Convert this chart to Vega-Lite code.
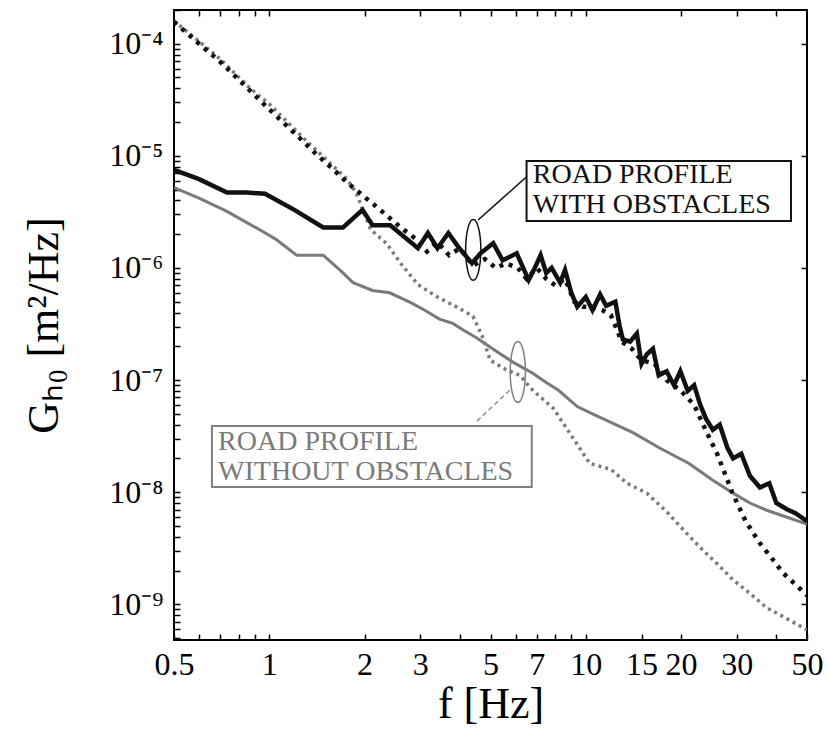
{
  "$schema": "https://vega.github.io/schema/vega-lite/v6.json",
  "width": 633,
  "height": 630,
  "autosize": {"type": "none"},
  "padding": {"left": 174, "top": 10, "right": 21, "bottom": 90},
  "background": "white",
  "config": {
    "view": {"stroke": "black", "strokeWidth": 2},
    "font": "Liberation Serif"
  },
  "datasets": {
    "curves": [
      {"s": "bs", "f": 0.5, "G": 7.5e-6}, {"s": "bs", "f": 0.6, "G": 6.2e-6}, {"s": "bs", "f": 0.735, "G": 4.7e-6},
      {"s": "bs", "f": 0.85, "G": 4.7e-6}, {"s": "bs", "f": 0.97, "G": 4.6e-6}, {"s": "bs", "f": 1.2, "G": 3.3e-6},
      {"s": "bs", "f": 1.48, "G": 2.3e-6}, {"s": "bs", "f": 1.71, "G": 2.3e-6}, {"s": "bs", "f": 1.97, "G": 3.3e-6},
      {"s": "bs", "f": 2.12, "G": 2.4e-6}, {"s": "bs", "f": 2.41, "G": 2.4e-6}, {"s": "bs", "f": 2.95, "G": 1.5e-6},
      {"s": "bs", "f": 3.17, "G": 2.05e-6}, {"s": "bs", "f": 3.4, "G": 1.5e-6}, {"s": "bs", "f": 3.68, "G": 2.05e-6},
      {"s": "bs", "f": 3.95, "G": 1.55e-6}, {"s": "bs", "f": 4.37, "G": 1.1e-6}, {"s": "bs", "f": 4.65, "G": 1.35e-6},
      {"s": "bs", "f": 5.1, "G": 1.66e-6}, {"s": "bs", "f": 5.46, "G": 1.17e-6}, {"s": "bs", "f": 6.05, "G": 1.35e-6},
      {"s": "bs", "f": 6.6, "G": 7.8e-7}, {"s": "bs", "f": 6.9, "G": 1.0e-6}, {"s": "bs", "f": 7.2, "G": 1.3e-6},
      {"s": "bs", "f": 7.5, "G": 9e-7}, {"s": "bs", "f": 7.8, "G": 1.0e-6}, {"s": "bs", "f": 8.3, "G": 7.4e-7},
      {"s": "bs", "f": 8.6, "G": 9.6e-7}, {"s": "bs", "f": 9.0, "G": 6e-7}, {"s": "bs", "f": 9.4, "G": 4.5e-7},
      {"s": "bs", "f": 10.0, "G": 5.5e-7}, {"s": "bs", "f": 10.5, "G": 4.2e-7}, {"s": "bs", "f": 11.1, "G": 5.8e-7},
      {"s": "bs", "f": 11.6, "G": 4.6e-7}, {"s": "bs", "f": 12.4, "G": 5.0e-7}, {"s": "bs", "f": 12.8, "G": 3.0e-7},
      {"s": "bs", "f": 13.1, "G": 2.3e-7}, {"s": "bs", "f": 13.8, "G": 2.2e-7}, {"s": "bs", "f": 14.5, "G": 2.6e-7},
      {"s": "bs", "f": 15.0, "G": 1.4e-7}, {"s": "bs", "f": 15.6, "G": 1.7e-7}, {"s": "bs", "f": 16.3, "G": 1.9e-7},
      {"s": "bs", "f": 17.0, "G": 1.1e-7}, {"s": "bs", "f": 18.0, "G": 1.2e-7}, {"s": "bs", "f": 19.0, "G": 9e-8},
      {"s": "bs", "f": 19.9, "G": 1.2e-7}, {"s": "bs", "f": 21, "G": 8e-8}, {"s": "bs", "f": 22, "G": 9e-8},
      {"s": "bs", "f": 23, "G": 6e-8}, {"s": "bs", "f": 24, "G": 4.5e-8}, {"s": "bs", "f": 25.2, "G": 3.6e-8},
      {"s": "bs", "f": 26.5, "G": 4e-8}, {"s": "bs", "f": 28, "G": 2.5e-8}, {"s": "bs", "f": 29.2, "G": 2.0e-8},
      {"s": "bs", "f": 31, "G": 2.2e-8}, {"s": "bs", "f": 33, "G": 1.4e-8}, {"s": "bs", "f": 35.5, "G": 1.1e-8},
      {"s": "bs", "f": 38, "G": 1.2e-8}, {"s": "bs", "f": 40, "G": 8e-9}, {"s": "bs", "f": 43.3, "G": 7e-9},
      {"s": "bs", "f": 46, "G": 6.5e-9}, {"s": "bs", "f": 50, "G": 5.5e-9},

      {"s": "bd", "f": 0.5, "G": 1.57e-4}, {"s": "bd", "f": 0.6, "G": 1.0e-4}, {"s": "bd", "f": 0.7, "G": 6.9e-5},
      {"s": "bd", "f": 0.8, "G": 4.8e-5}, {"s": "bd", "f": 1.0, "G": 2.6e-5}, {"s": "bd", "f": 1.2, "G": 1.6e-5},
      {"s": "bd", "f": 1.4, "G": 1.05e-5}, {"s": "bd", "f": 1.6, "G": 7.5e-6}, {"s": "bd", "f": 1.76, "G": 5.8e-6},
      {"s": "bd", "f": 2.0, "G": 4.3e-6}, {"s": "bd", "f": 2.3, "G": 3.1e-6}, {"s": "bd", "f": 2.6, "G": 2.3e-6},
      {"s": "bd", "f": 2.93, "G": 1.78e-6}, {"s": "bd", "f": 3.15, "G": 1.4e-6}, {"s": "bd", "f": 3.4, "G": 1.7e-6},
      {"s": "bd", "f": 3.7, "G": 1.3e-6}, {"s": "bd", "f": 4.0, "G": 1.5e-6}, {"s": "bd", "f": 4.4, "G": 1.05e-6},
      {"s": "bd", "f": 4.8, "G": 1.2e-6}, {"s": "bd", "f": 5.2, "G": 1.0e-6}, {"s": "bd", "f": 5.6, "G": 1.1e-6},
      {"s": "bd", "f": 6.1, "G": 1.0e-6}, {"s": "bd", "f": 6.5, "G": 8e-7}, {"s": "bd", "f": 7.0, "G": 1.0e-6},
      {"s": "bd", "f": 7.5, "G": 8e-7}, {"s": "bd", "f": 8.0, "G": 7e-7}, {"s": "bd", "f": 8.6, "G": 8e-7},
      {"s": "bd", "f": 9.2, "G": 5e-7}, {"s": "bd", "f": 9.8, "G": 4.5e-7}, {"s": "bd", "f": 10.5, "G": 4.5e-7},
      {"s": "bd", "f": 11.3, "G": 4.2e-7}, {"s": "bd", "f": 12, "G": 3.8e-7}, {"s": "bd", "f": 13, "G": 2.2e-7},
      {"s": "bd", "f": 14, "G": 1.9e-7}, {"s": "bd", "f": 15, "G": 1.5e-7}, {"s": "bd", "f": 16.5, "G": 1.4e-7},
      {"s": "bd", "f": 18, "G": 1.0e-7}, {"s": "bd", "f": 20, "G": 8e-8}, {"s": "bd", "f": 22, "G": 6e-8},
      {"s": "bd", "f": 24, "G": 3.5e-8}, {"s": "bd", "f": 26, "G": 2.2e-8}, {"s": "bd", "f": 29, "G": 1.0e-8},
      {"s": "bd", "f": 32, "G": 5.5e-9}, {"s": "bd", "f": 35.5, "G": 3.5e-9}, {"s": "bd", "f": 39, "G": 2.5e-9},
      {"s": "bd", "f": 42, "G": 1.9e-9}, {"s": "bd", "f": 46, "G": 1.5e-9}, {"s": "bd", "f": 50, "G": 1.2e-9},

      {"s": "gs", "f": 0.5, "G": 5.2e-6}, {"s": "gs", "f": 0.6, "G": 4.2e-6}, {"s": "gs", "f": 0.735, "G": 3.2e-6},
      {"s": "gs", "f": 0.93, "G": 2.2e-6}, {"s": "gs", "f": 1.05, "G": 1.8e-6}, {"s": "gs", "f": 1.22, "G": 1.3e-6},
      {"s": "gs", "f": 1.48, "G": 1.3e-6}, {"s": "gs", "f": 1.67, "G": 9.6e-7}, {"s": "gs", "f": 1.84, "G": 7.4e-7},
      {"s": "gs", "f": 2.12, "G": 6.3e-7}, {"s": "gs", "f": 2.4, "G": 6.0e-7}, {"s": "gs", "f": 2.8, "G": 4.9e-7},
      {"s": "gs", "f": 3.1, "G": 4.2e-7}, {"s": "gs", "f": 3.45, "G": 3.5e-7}, {"s": "gs", "f": 3.8, "G": 3.2e-7},
      {"s": "gs", "f": 4.1, "G": 2.8e-7}, {"s": "gs", "f": 4.5, "G": 2.4e-7}, {"s": "gs", "f": 5.3, "G": 1.75e-7},
      {"s": "gs", "f": 6.0, "G": 1.4e-7}, {"s": "gs", "f": 6.8, "G": 1.15e-7}, {"s": "gs", "f": 7.5, "G": 9.5e-8},
      {"s": "gs", "f": 8.2, "G": 8.1e-8}, {"s": "gs", "f": 9.4, "G": 5.8e-8}, {"s": "gs", "f": 10.5, "G": 5.0e-8},
      {"s": "gs", "f": 12, "G": 4.2e-8}, {"s": "gs", "f": 14.1, "G": 3.4e-8}, {"s": "gs", "f": 17, "G": 2.5e-8},
      {"s": "gs", "f": 21.2, "G": 1.8e-8}, {"s": "gs", "f": 25, "G": 1.3e-8}, {"s": "gs", "f": 29.2, "G": 9.8e-9},
      {"s": "gs", "f": 33, "G": 8e-9}, {"s": "gs", "f": 37.3, "G": 6.9e-9}, {"s": "gs", "f": 43, "G": 6e-9},
      {"s": "gs", "f": 50, "G": 5.2e-9},

      {"s": "gd", "f": 0.5, "G": 1.6e-4}, {"s": "gd", "f": 0.6, "G": 1.05e-4}, {"s": "gd", "f": 0.7, "G": 7.3e-5},
      {"s": "gd", "f": 0.87, "G": 4.0e-5}, {"s": "gd", "f": 1.0, "G": 2.9e-5}, {"s": "gd", "f": 1.28, "G": 1.45e-5},
      {"s": "gd", "f": 1.5, "G": 9.5e-6}, {"s": "gd", "f": 1.76, "G": 6.2e-6}, {"s": "gd", "f": 1.88, "G": 4.7e-6},
      {"s": "gd", "f": 2.09, "G": 2.2e-6}, {"s": "gd", "f": 2.35, "G": 1.65e-6}, {"s": "gd", "f": 2.6, "G": 1.1e-6},
      {"s": "gd", "f": 2.95, "G": 7.1e-7}, {"s": "gd", "f": 3.4, "G": 5.5e-7}, {"s": "gd", "f": 3.9, "G": 4.5e-7},
      {"s": "gd", "f": 4.4, "G": 3.7e-7}, {"s": "gd", "f": 4.7, "G": 2.5e-7}, {"s": "gd", "f": 4.99, "G": 1.5e-7},
      {"s": "gd", "f": 5.6, "G": 1.24e-7}, {"s": "gd", "f": 6.2, "G": 1.1e-7}, {"s": "gd", "f": 6.8, "G": 8.1e-8},
      {"s": "gd", "f": 7.9, "G": 5.6e-8}, {"s": "gd", "f": 9, "G": 3.2e-8}, {"s": "gd", "f": 10.3, "G": 1.8e-8},
      {"s": "gd", "f": 12, "G": 1.6e-8}, {"s": "gd", "f": 13.5, "G": 1.2e-8}, {"s": "gd", "f": 15.6, "G": 9.8e-9},
      {"s": "gd", "f": 18.1, "G": 6.6e-9}, {"s": "gd", "f": 20.5, "G": 4.5e-9}, {"s": "gd", "f": 23, "G": 3.2e-9},
      {"s": "gd", "f": 26, "G": 2.3e-9}, {"s": "gd", "f": 29.2, "G": 1.65e-9}, {"s": "gd", "f": 33, "G": 1.25e-9},
      {"s": "gd", "f": 37.3, "G": 9.3e-10}, {"s": "gd", "f": 43, "G": 7.5e-10}, {"s": "gd", "f": 50, "G": 5.9e-10}
    ],
    "boxes": [
      {"id": "with", "f": 6.5, "f2": 44.5, "G": 9.0e-6, "G2": 2.63e-6},
      {"id": "without", "f": 0.659, "f2": 6.75, "G": 3.9e-8, "G2": 1.11e-8}
    ],
    "labels": [
      {"id": "with", "f": 6.8, "G": 5.74e-6, "t": "ROAD PROFILE\nWITH OBSTACLES"},
      {"id": "without", "f": 0.689, "G": 2.37e-8, "t": "ROAD PROFILE\nWITHOUT OBSTACLES"}
    ],
    "leaders": [
      {"id": "with", "f": 4.57, "G": 2.68e-6, "f2": 6.5, "G2": 6.5e-6},
      {"id": "without", "f": 5.75, "G": 8.1e-8, "f2": 4.46, "G2": 4.13e-8}
    ],
    "ellipses": [
      {"id": "with", "f": 4.41, "G": 1.45e-6},
      {"id": "without", "f": 6.1, "G": 1.18e-7}
    ]
  },
  "resolve": {"axis": {"x": "independent", "y": "independent"}},
  "encoding": {
    "x": {"field": "f", "type": "quantitative", "scale": {"type": "log", "domain": [0.5, 50], "nice": false}, "axis": null},
    "y": {"field": "G", "type": "quantitative", "scale": {"type": "log", "domain": [4.8e-10, 2.0e-4], "nice": false}, "axis": null}
  },
  "layer": [
    {
      "data": {"name": "curves"},
      "transform": [{"filter": "datum.s == 'gs'"}],
      "mark": {"type": "line", "color": "#7a7a7a", "strokeWidth": 3, "clip": true},
      "encoding": {
        "x": {"field": "f", "type": "quantitative", "scale": {"type": "log", "domain": [0.5, 50], "nice": false},
          "axis": {"orient": "bottom", "title": "f [Hz]",
            "values": [0.5, 0.6, 0.7, 0.8, 0.9, 1, 2, 3, 4, 5, 6, 7, 8, 9, 10, 15, 20, 30, 40, 50],
            "labelExpr": "indexof([0.5, 1, 2, 3, 5, 7, 10, 15, 20, 30, 50], datum.value) >= 0 ? '' + datum.value : ''",
            "grid": false, "domain": false, "tickSize": -6, "tickColor": "black", "tickWidth": 1.5,
            "labelFont": "Liberation Serif", "labelFontSize": 32, "labelColor": "black", "labelPadding": 15,
            "labelOverlap": false, "labelBound": false, "labelFlush": false,
            "titleFont": "Liberation Serif", "titleFontSize": 44, "titleFontWeight": "normal", "titleColor": "black", "titlePadding": 2}},
        "y": {"field": "G", "type": "quantitative", "scale": {"type": "log", "domain": [4.8e-10, 2.0e-4], "nice": false},
          "axis": {"orient": "left", "title": "Gₕ₀ [m²/Hz]",
            "values": [5e-10, 6e-10, 7e-10, 8e-10, 9e-10,
              1e-9, 2e-9, 3e-9, 4e-9, 5e-9, 6e-9, 7e-9, 8e-9, 9e-9,
              1e-8, 2e-8, 3e-8, 4e-8, 5e-8, 6e-8, 7e-8, 8e-8, 9e-8,
              1e-7, 2e-7, 3e-7, 4e-7, 5e-7, 6e-7, 7e-7, 8e-7, 9e-7,
              1e-6, 2e-6, 3e-6, 4e-6, 5e-6, 6e-6, 7e-6, 8e-6, 9e-6,
              1e-5, 2e-5, 3e-5, 4e-5, 5e-5, 6e-5, 7e-5, 8e-5, 9e-5,
              1e-4, 2e-4],
            "labelExpr": "indexof([1e-9, 1e-8, 1e-7, 1e-6, 1e-5, 1e-4], datum.value) >= 0 ? '10⁻' + ['⁰','¹','²','³','⁴','⁵','⁶','⁷','⁸','⁹'][round(-log(datum.value) / LN10)] : ''",
            "grid": false, "domain": false, "tickSize": -6, "tickColor": "black", "tickWidth": 1.5,
            "labelFont": "Liberation Serif", "labelFontSize": 32, "labelColor": "black", "labelPadding": 17,
            "labelOverlap": false, "labelBound": false, "labelFlush": false,
            "titleFont": "Liberation Serif", "titleFontSize": 44, "titleFontWeight": "normal", "titleColor": "black", "titlePadding": 42}}
      }
    },
    {
      "data": {"name": "curves"},
      "transform": [{"filter": "datum.s == 'gd'"}],
      "mark": {"type": "line", "color": "#7a7a7a", "strokeWidth": 3.5, "strokeDash": [3, 4], "clip": true},
      "encoding": {
        "x": {"field": "f", "type": "quantitative", "scale": {"type": "log", "domain": [0.5, 50], "nice": false},
          "axis": {"orient": "top", "title": null, "labels": false, "grid": false, "domain": false,
            "values": [0.6, 0.7, 0.8, 0.9, 1, 2, 3, 4, 5, 6, 7, 8, 9, 10, 20, 30, 40],
            "tickSize": -6, "tickColor": "black", "tickWidth": 1.5}},
        "y": {"field": "G", "type": "quantitative", "scale": {"type": "log", "domain": [4.8e-10, 2.0e-4], "nice": false},
          "axis": {"orient": "right", "title": null, "labels": false, "grid": false, "domain": false,
            "values": [1e-9, 1e-8, 1e-7, 1e-6, 1e-5, 1e-4],
            "tickSize": -6, "tickColor": "black", "tickWidth": 1.5}}
      }
    },
    {
      "data": {"name": "curves"},
      "transform": [{"filter": "datum.s == 'bd'"}],
      "mark": {"type": "line", "color": "#111111", "strokeWidth": 4.5, "strokeDash": [4, 6], "clip": true}
    },
    {
      "data": {"name": "curves"},
      "transform": [{"filter": "datum.s == 'bs'"}],
      "mark": {"type": "line", "color": "#111111", "strokeWidth": 4.5, "strokeJoin": "miter", "clip": true}
    },
    {
      "data": {"name": "boxes"},
      "mark": {"type": "rect", "fill": "white", "fillOpacity": 0, "strokeWidth": 2},
      "encoding": {
        "x2": {"field": "f2"},
        "y2": {"field": "G2"},
        "stroke": {"condition": {"test": "datum.id == 'with'", "value": "#111111"}, "value": "#808080"}
      }
    },
    {
      "data": {"name": "leaders"},
      "mark": {"type": "rule", "strokeWidth": 1.5},
      "encoding": {
        "x2": {"field": "f2"},
        "y2": {"field": "G2"},
        "stroke": {"condition": {"test": "datum.id == 'with'", "value": "#111111"}, "value": "#909090"},
        "strokeDash": {"condition": {"test": "datum.id == 'with'", "value": [1, 0]}, "value": [5, 3]}
      }
    },
    {
      "data": {"name": "ellipses"},
      "mark": {"type": "point", "shape": "M0,-1A0.25,1 0 1,1 0,1A0.25,1 0 1,1 0,-1Z", "filled": false, "size": 3700, "strokeWidth": 1.5, "opacity": 1},
      "encoding": {
        "stroke": {"condition": {"test": "datum.id == 'with'", "value": "#111111"}, "value": "#808080"}
      }
    },
    {
      "data": {"name": "labels"},
      "mark": {"type": "text", "align": "left", "baseline": "alphabetic", "font": "Liberation Serif", "fontSize": 28, "lineHeight": 30, "lineBreak": "\n"},
      "encoding": {
        "text": {"field": "t", "type": "nominal"},
        "color": {"condition": {"test": "datum.id == 'with'", "value": "#111111"}, "value": "#7a7a7a"}
      }
    }
  ]
}
